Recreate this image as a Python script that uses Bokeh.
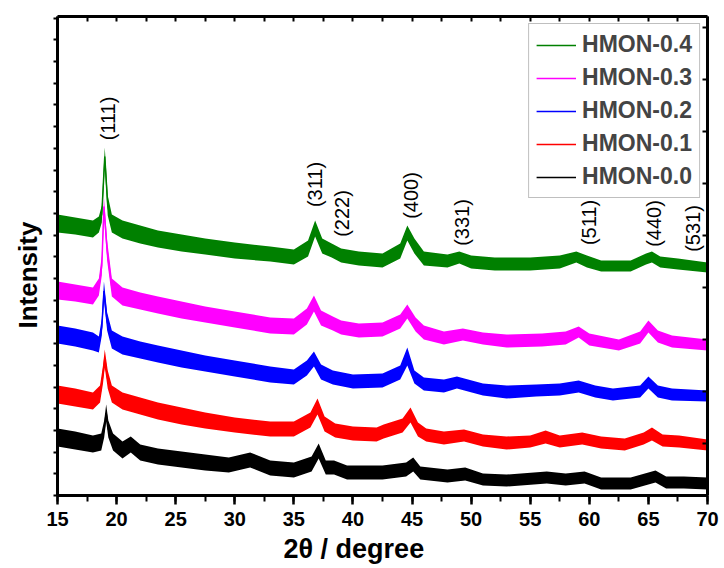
import math
from bokeh.plotting import figure
from bokeh.models import (Range1d, LinearAxis, SingleIntervalTicker, Label, Title,
                          Legend, LegendItem, ColumnDataSource, CustomJSTickFormatter)
from bokeh.embed import file_html
from bokeh.resources import INLINE

# ---------------- data (2theta in degree, intensity in arbitrary units) ----------------
series_names = ["HMON-0.4", "HMON-0.3", "HMON-0.2", "HMON-0.1", "HMON-0.0"]
series_colors = ["#008000", "#ff00ff", "#0000ff", "#ff0000", "#000000"]

x_04 = [15.0, 16.5, 18.0, 18.5, 18.75, 19.0, 19.25, 19.6, 20.5, 22.0, 23.5, 25.5, 27.5, 30.0,
        33.0, 35.0, 36.2, 36.8, 37.4, 38.2, 39.0, 40.5, 42.5, 44.0, 44.6, 45.2, 46.0, 48.0,
        49.0, 50.0, 52.0, 55.0, 57.5, 58.9, 59.8, 61.0, 63.5, 64.8, 65.3, 66.0, 67.5, 70.0]
hi_04 = [281, 278, 275, 279, 290, 348, 300, 281, 275, 270, 265, 261, 257, 253,
         249, 246, 255, 275, 257, 252, 247, 244, 242, 252, 270, 257, 244, 241,
         244, 240, 238, 238, 240, 244, 240, 235, 235, 242, 244, 239, 237, 233]
lo_04 = [263, 261, 258, 263, 273, 330, 280, 263, 257, 252, 248, 244, 241, 237,
         234, 231, 239, 259, 242, 238, 233, 230, 228, 237, 255, 242, 230, 228,
         232, 227, 225, 225, 227, 233, 228, 224, 224, 231, 233, 228, 226, 223]

x_03 = [15.0, 16.5, 18.0, 18.5, 18.75, 18.93, 19.2, 19.6, 20.5, 22.0, 23.5, 25.5, 27.5, 30.0,
        33.0, 35.0, 36.1, 36.7, 37.3, 38.3, 39.0, 40.5, 42.5, 44.0, 44.6, 45.3, 46.0, 47.7,
        49.3, 51.0, 53.0, 56.0, 58.0, 59.1, 60.0, 62.5, 64.3, 65.0, 65.8, 67.0, 70.0]
hi_03 = [214, 211, 208, 217, 240, 298, 255, 217, 208, 203, 199, 194, 189, 184,
         178, 177, 187, 200, 185, 179, 175, 172, 173, 181, 191, 178, 170, 164,
         167, 163, 161, 162, 164, 169, 162, 156, 164, 175, 165, 160, 156]
lo_03 = [196, 194, 191, 200, 220, 280, 235, 199, 190, 186, 182, 177, 173, 168,
         162, 161, 171, 184, 170, 165, 161, 158, 159, 167, 177, 164, 156, 151,
         155, 151, 148, 149, 151, 158, 150, 145, 152, 163, 153, 148, 145]

x_02 = [15.0, 16.5, 18.0, 18.5, 18.75, 18.93, 19.2, 19.6, 20.5, 22.0, 23.5, 25.5, 27.5, 30.0,
        33.0, 35.0, 36.1, 36.7, 37.3, 38.3, 40.0, 42.5, 44.0, 44.6, 45.2, 46.0, 47.7, 48.8,
        51.0, 53.0, 55.5, 57.5, 59.1, 60.5, 62.0, 64.3, 65.0, 65.8, 67.0, 70.0]
hi_02 = [170, 167, 163, 159, 177, 214, 183, 165, 159, 154, 150, 145, 140, 135,
         129, 126, 135, 144, 131, 125, 121, 122, 130, 148, 125, 118, 116, 119,
         112, 110, 111, 112, 115, 110, 107, 110, 119, 110, 107, 105]
lo_02 = [152, 149, 145, 143, 160, 195, 165, 147, 141, 137, 133, 128, 124, 119,
         113, 111, 120, 129, 116, 111, 107, 108, 116, 130, 112, 105, 103, 107,
         100, 97, 99, 100, 103, 98, 95, 98, 107, 98, 95, 94]

x_01 = [15.0, 16.5, 18.0, 18.6, 18.85, 19.0, 19.25, 19.6, 20.5, 22.0, 23.5, 25.5, 27.5, 30.0,
        33.0, 35.0, 36.4, 37.0, 37.6, 38.5, 40.0, 42.0, 42.6, 44.2, 44.87, 45.5, 46.2, 47.7,
        49.4, 51.0, 53.0, 55.0, 56.3, 57.5, 59.4, 61.0, 63.0, 64.6, 65.3, 66.2, 67.6, 70.0]
hi_01 = [110, 107, 103, 110, 130, 146, 125, 110, 103, 98, 93, 88, 83, 78,
         74, 74, 83, 97, 79, 72, 69, 68, 71, 77, 88, 73, 67, 64,
         66, 61, 59, 60, 65, 60, 63, 59, 57, 63, 68, 61, 60, 56]
lo_01 = [92, 89, 86, 93, 112, 128, 107, 93, 86, 81, 76, 71, 67, 63,
         59, 59, 68, 81, 64, 58, 55, 54, 57, 63, 73, 59, 54, 51,
         54, 49, 46, 48, 52, 48, 51, 47, 45, 51, 55, 49, 48, 45]

x_00 = [15.0, 16.5, 18.0, 18.7, 18.95, 19.12, 19.3, 19.7, 20.5, 21.2, 22.0, 23.5, 25.5, 27.5,
        29.5, 31.3, 33.0, 35.0, 36.5, 37.1, 37.7, 38.4, 39.5, 42.5, 44.5, 45.1, 45.7, 48.0,
        49.5, 51.0, 53.0, 56.4, 58.0, 59.6, 61.0, 63.5, 65.0, 65.6, 66.5, 68.0, 70.0]
hi_00 = [67, 64, 60, 62, 75, 91, 75, 62, 54, 59, 51, 47, 44, 41,
         38, 43, 35, 33, 39, 52, 35, 35, 30, 30, 33, 38, 29, 26,
         28, 22, 21, 24, 22, 24, 18, 18, 23, 25, 19, 19, 18]
lo_00 = [49, 46, 43, 45, 58, 74, 58, 45, 37, 43, 35, 31, 28, 25,
         23, 28, 20, 18, 24, 37, 21, 21, 16, 16, 19, 24, 16, 13,
         15, 10, 9, 12, 10, 12, 6, 6, 11, 13, 7, 7, 6]

peak_labels = ["(111)", "(311)", "(222)", "(400)", "(331)", "(511)", "(440)", "(531)"]
peak_label_x = [19.3, 36.83, 39.09, 44.87, 49.24, 59.96, 65.46, 68.79]
peak_label_y = [377, 311, 282, 300, 273, 273, 272, 267]

x_title = "2\u03b8 / degree"
y_title = "Intensity"

series_x = [x_04, x_03, x_02, x_01, x_00]
series_hi = [hi_04, hi_03, hi_02, hi_01, hi_00]
series_lo = [lo_04, lo_03, lo_02, lo_01, lo_00]

FONT = "Liberation Sans"
blank = CustomJSTickFormatter(code="return '';")

# ---------------- figure ----------------
p = figure(width=724, height=568, x_range=Range1d(15, 70), y_range=Range1d(0, 479),
           output_backend="svg", toolbar_location=None,
           min_border_left=57, min_border_right=17, min_border_top=16, min_border_bottom=73)
p.outline_line_color = None
p.xgrid.visible = False
p.ygrid.visible = False
p.background_fill_color = "white"
p.border_fill_color = "white"

# bottom axis
xa = p.below[0]
xa.ticker = SingleIntervalTicker(interval=5, num_minor_ticks=2)
xa.axis_line_width = 3
xa.major_tick_out = 9
xa.major_tick_in = 0
xa.minor_tick_out = 6
xa.minor_tick_in = 0
xa.major_tick_line_width = 2.5
xa.minor_tick_line_width = 2
xa.major_label_standoff = 7
xa.major_label_text_font = FONT
xa.major_label_text_font_style = "bold"
xa.major_label_text_font_size = "20px"
xa.major_label_text_color = "black"

# left axis
ya = p.left[0]
ya.ticker = SingleIntervalTicker(interval=21.7, num_minor_ticks=0)
ya.formatter = blank
ya.axis_line_width = 3
ya.major_tick_out = 4
ya.major_tick_in = 0
ya.major_tick_line_width = 2
ya.minor_tick_line_color = None
ya.major_label_standoff = 0

# top axis (inward ticks, no labels)
top = LinearAxis(ticker=SingleIntervalTicker(interval=2.5, num_minor_ticks=0),
                 formatter=blank,
                 axis_line_width=3, major_tick_in=5, major_tick_out=0,
                 major_tick_line_width=2, minor_tick_line_color=None,
                 major_label_standoff=0)
p.add_layout(top, "above")

# right axis (inward ticks, no labels)
right = LinearAxis(ticker=SingleIntervalTicker(interval=52, num_minor_ticks=0),
                   formatter=blank,
                   axis_line_width=3, major_tick_in=5, major_tick_out=0,
                   major_tick_line_width=2, minor_tick_line_color=None,
                   major_label_standoff=0)
p.add_layout(right, "right")

# ---------------- axis titles ----------------
p.add_layout(Title(text=x_title, align="left", offset=226, standoff=6,
                   text_font=FONT, text_font_size="27px", text_font_style="bold",
                   text_color="black"), "below")
p.add_layout(Title(text=y_title, align="left", offset=167, standoff=21,
                   text_font=FONT, text_font_size="26px", text_font_style="bold",
                   text_color="black"), "left")

# ---------------- series ----------------
line_renderers = []
for xs, his, los, color in zip(series_x, series_hi, series_lo, series_colors):
    mids = [(a + b) / 2 for a, b in zip(his, los)]
    src = ColumnDataSource(dict(x=xs, hi=his, lo=los, mid=mids))
    p.varea(x="x", y1="lo", y2="hi", source=src, fill_color=color, fill_alpha=1.0)
    r = p.line(x="x", y="mid", source=src, line_color=color, line_width=1.5)
    line_renderers.append(r)

# ---------------- peak annotations ----------------
for txt, lx, ly in zip(peak_labels, peak_label_x, peak_label_y):
    p.add_layout(Label(x=lx, y=ly, text=txt, angle=math.pi / 2,
                       text_align="center", text_baseline="middle",
                       text_font=FONT, text_font_size="20px", text_color="black"))

# ---------------- legend ----------------
legend = Legend(items=[LegendItem(label=n, renderers=[r]) for n, r in zip(series_names, line_renderers)],
                location="top_right", margin=7, padding=7, spacing=6,
                glyph_width=40, glyph_height=24, label_height=24, label_standoff=6,
                label_text_font=FONT, label_text_font_size="23px", label_text_font_style="bold",
                border_line_color="#808080", border_line_width=1,
                background_fill_color="white", background_fill_alpha=1.0)
p.add_layout(legend)

open("out.html", "w").write(file_html(p, INLINE))
